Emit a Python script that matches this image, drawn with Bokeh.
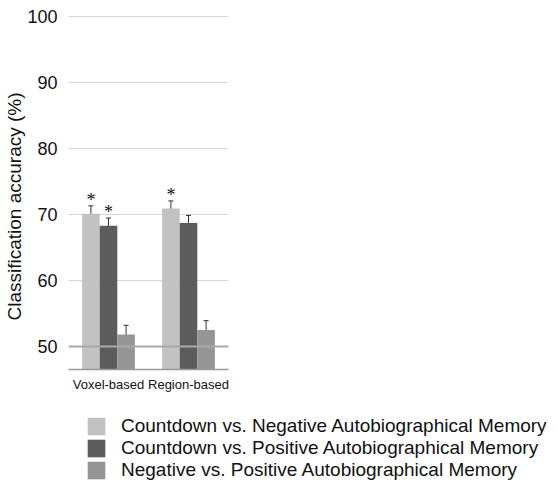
from bokeh.plotting import figure
from bokeh.models import (ColumnDataSource, FactorRange, Whisker, Legend, LegendItem,
                          Span, FixedTicker, LabelSet, Title)
from bokeh.transform import dodge
from bokeh.embed import file_html
from bokeh.resources import INLINE

# Classification accuracy (%) per analysis type and contrast
methods = ["Voxel-based", "Region-based"]
series = [
    "Countdown vs. Negative Autobiographical Memory",
    "Countdown vs. Positive Autobiographical Memory",
    "Negative vs. Positive Autobiographical Memory",
]
acc_neg = [70.1, 70.9]
acc_pos = [68.3, 68.7]
acc_negpos = [51.8, 52.5]
err_neg = [1.2, 1.15]
err_pos = [1.15, 1.15]
err_negpos = [1.4, 1.4]
signif_neg = ["*", "*"]
signif_pos = ["*", ""]
signif_negpos = ["", ""]
colors = ["#c2c2c2", "#5c5c5c", "#959595"]
y_ticks = [50, 60, 70, 80, 90, 100]

FONT = "Liberation Sans"
Y0 = 46.5

p = figure(x_range=FactorRange(*methods), y_range=(Y0, 100.3),
           width=558, height=400, output_backend="svg", toolbar_location=None,
           min_border_left=68, min_border_right=330, min_border_top=14,
           min_border_bottom=31)
p.outline_line_color = None
p.background_fill_color = "white"
p.border_fill_color = "white"

offsets = [-0.22, 0.0, 0.22]
bar_w = 0.22
values = [acc_neg, acc_pos, acc_negpos]
errors = [err_neg, err_pos, err_negpos]
stars = [signif_neg, signif_pos, signif_negpos]

sources = []
for vals, errs, sig, col, off in zip(values, errors, stars, colors, offsets):
    src = ColumnDataSource(dict(
        m=methods, v=vals,
        lo=[a - e for a, e in zip(vals, errs)],
        hi=[a + e for a, e in zip(vals, errs)],
        s=sig,
    ))
    sources.append(src)
    p.vbar(x=dodge("m", off, range=p.x_range), top="v", bottom=Y0, width=bar_w,
           source=src, fill_color=col, line_color=None)
    w = Whisker(base=dodge("m", off, range=p.x_range), upper="hi", lower="lo", source=src,
                line_color="#333333", line_width=1)
    w.upper_head.size = 5
    w.lower_head.size = 5
    w.upper_head.line_color = "#333333"
    w.lower_head.line_color = "#333333"
    p.add_layout(w)
    p.add_layout(LabelSet(x=dodge("m", off, range=p.x_range), y="hi", text="s", source=src,
                          text_align="center", text_baseline="bottom", y_offset=-4,
                          text_font=FONT, text_font_size="18px", text_color="#111111"))

# emphasised baseline at 50%
p.add_layout(Span(location=50, dimension="width", line_color="#a8a8a8", line_width=2))

p.yaxis.ticker = FixedTicker(ticks=y_ticks)
p.yaxis.axis_line_color = None
p.yaxis.major_tick_line_color = None
p.yaxis.minor_tick_line_color = None
p.yaxis.major_label_text_font = FONT
p.yaxis.major_label_text_font_size = "18px"
p.yaxis.major_label_text_color = "#111111"
p.yaxis.major_label_standoff = 5

# vertical axis title, anchored near the bottom of the axis
p.add_layout(Title(text="Classification accuracy (%)", align="left", offset=49,
                   text_font=FONT, text_font_size="19px", text_font_style="normal",
                   text_color="#111111", standoff=0), "left")

p.xaxis.axis_line_color = "#9a9a9a"
p.xaxis.axis_line_width = 1.5
p.xaxis.major_tick_line_color = None
p.xaxis.minor_tick_line_color = None
p.xaxis.major_label_text_font = FONT
p.xaxis.major_label_text_font_size = "13px"
p.xaxis.major_label_text_color = "#111111"
p.xaxis.major_label_standoff = 1

p.xgrid.grid_line_color = None
p.ygrid.grid_line_color = "#d4d4d4"
p.ygrid.grid_line_width = 1

# legend strip underneath the chart (its own root, so its frame spans the full width);
# hidden copies of the bar renderers supply the legend swatches
lg = figure(width=558, height=83, output_backend="svg", toolbar_location=None,
            x_axis_type=None, y_axis_type=None, min_border=0,
            x_range=FactorRange(*methods), y_range=(Y0, 100.3))
lg.outline_line_color = None
lg.border_fill_color = "white"
lg.background_fill_color = "white"
lg.xgrid.grid_line_color = None
lg.ygrid.grid_line_color = None
items = []
for name, src, col, off in zip(series, sources, colors, offsets):
    r = lg.vbar(x=dodge("m", off, range=lg.x_range), top="v", bottom=Y0, width=bar_w,
                source=src, fill_color=col, line_color=None, visible=False)
    items.append(LegendItem(label=name, renderers=[r], index=0))

legend = Legend(items=items, location=(85, 2), orientation="vertical",
                glyph_width=22, glyph_height=22, label_height=18, spacing=0,
                label_standoff=14, padding=0, margin=0, click_policy="none",
                inactive_fill_alpha=0.0,
                border_line_color=None, background_fill_alpha=0,
                label_text_font=FONT, label_text_font_size="19px",
                label_text_color="#111111")
lg.add_layout(legend, "center")

open("out.html", "w").write(file_html([p, lg], INLINE))
